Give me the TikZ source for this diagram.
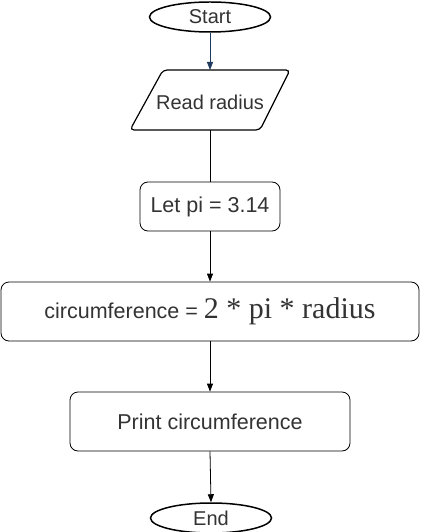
\documentclass[tikz,border=0pt]{standalone}
\usepackage{fontspec}
\setmainfont{Liberation Sans}
\newfontfamily\serifface{Liberation Serif}
\usetikzlibrary{shapes.geometric,arrows.meta}
\definecolor{txt}{HTML}{333333}
\definecolor{arrblue}{HTML}{1F3A5F}
\tikzset{
  term/.style={draw=black, line width=1.5pt, ellipse, minimum width=121bp, minimum height=30bp, inner sep=0pt, text=txt, font=\fontsize{20bp}{22bp}\selectfont},
  procbox/.style={draw=black, line width=0.8pt, rounded corners=8bp, text=txt, inner sep=0pt, font=\fontsize{21.5bp}{24bp}\selectfont},
  conn/.style={draw=black, line width=0.8pt},
  arr/.style={conn, -{Triangle[length=8bp,width=6bp]}},
}
\begin{document}
\begin{tikzpicture}[x=1bp,y=-1bp]
\useasboundingbox (0,0) rectangle (421,532);
% Start
\node[term] (start) at (210,17) {Start};
% Read radius (parallelogram)
\coordinate (p1) at (163,70);
\coordinate (p2) at (290,70);
\coordinate (p3) at (260,130);
\coordinate (p4) at (130,130);
\draw[line width=1.2pt, rounded corners=4bp] (p1) -- (p2) -- (p3) -- (p4) -- cycle;
\node[text=txt, font=\fontsize{20bp}{22bp}\selectfont, inner sep=0pt] (read) at (210,102) {Read radius};
\coordinate (readbot) at (210,130);
\coordinate (readtop) at (210,70);
% Let pi
\node[procbox, minimum width=140bp, minimum height=49bp] (letpi) at (210,206.5) {Let pi = 3.14};
% circumference
\node[procbox, minimum width=418bp, minimum height=59bp] (circ) at (210,311.5) {circumference = {\serifface\fontsize{30bp}{32bp}\selectfont 2 * pi * radius}};
% Print
\node[procbox, minimum width=280bp, minimum height=59bp] (print) at (210,421.5) {Print circumference};
% End
\node[term] (end) at (211,518) {End};
% connectors
\draw[arr, draw=arrblue, -{Triangle[length=8bp,width=6bp,fill=arrblue]}] (start.south) -- (readtop);
\draw[conn] (readbot) -- (letpi.north);
\draw[arr] (letpi.south) -- (circ.north);
\draw[arr] (circ.south) -- (print.north);
\draw[arr] (print.south) -- (end.north);
\end{tikzpicture}
\end{document}
